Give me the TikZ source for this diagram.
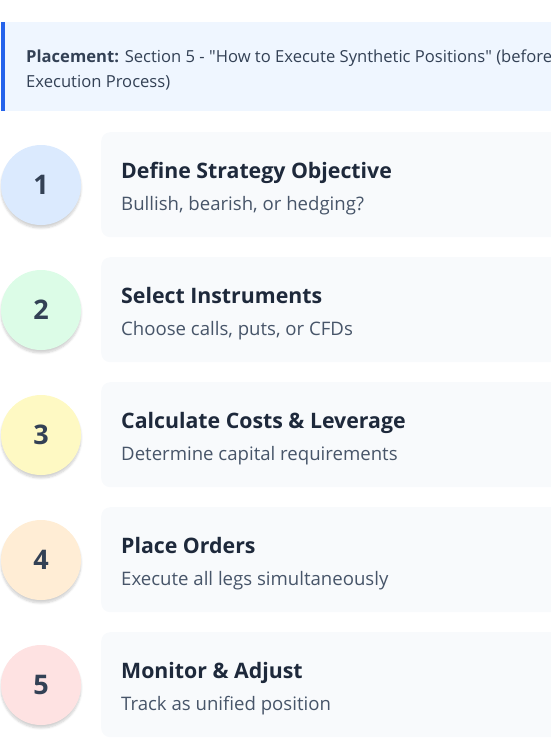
\documentclass[tikz,border=0pt]{standalone}
\usepackage{fontspec}
\setmainfont{Open Sans}
\usetikzlibrary{shadows.blur}

\definecolor{notebg}{HTML}{EFF6FF}
\definecolor{notebar}{HTML}{2563EB}
\definecolor{cardbg}{HTML}{F8FAFC}
\definecolor{darktext}{HTML}{1E293B}
\definecolor{subtext}{HTML}{475569}
\definecolor{numtext}{HTML}{334155}
\definecolor{stepblue}{HTML}{DBEAFE}
\definecolor{stepgreen}{HTML}{DCFCE7}
\definecolor{stepyellow}{HTML}{FEF9C3}
\definecolor{steporange}{HTML}{FFEDD5}
\definecolor{stepred}{HTML}{FEE2E2}

\tikzset{
  notebox/.style={anchor=north west, fill=notebg, minimum width=560pt, minimum height=89pt, inner sep=0pt},
  notetext/.style={anchor=west, inner sep=0pt, align=left, text=numtext,
    font=\fontsize{16.6}{25}\selectfont},
  stepdot/.style={circle, minimum size=80pt, inner sep=0pt, text=numtext,
    font=\fontsize{27}{30}\selectfont\bfseries,
    blur shadow={shadow xshift=0pt, shadow yshift=-3pt, shadow blur steps=6, shadow opacity=18}},
  card/.style={anchor=north west, fill=cardbg, rounded corners=9pt,
    minimum width=480pt, minimum height=105pt, inner sep=0pt},
  cardtitle/.style={anchor=base west, inner sep=0pt, text=darktext,
    font=\fontsize{21.3}{25}\selectfont\bfseries},
  cardsub/.style={anchor=base west, inner sep=0pt, text=subtext,
    font=\fontsize{18.6}{22}\selectfont}
}

\begin{document}
\begin{tikzpicture}[x=1pt,y=-1pt]
  \useasboundingbox (0,0) rectangle (551,748);
  \clip (0,0) rectangle (551,748);

  % placement note
  \node[notebox] (note) at (1,22) {};
  \fill[notebar] (note.north west) rectangle ([xshift=4pt]note.south west);
  \node[notetext] (notetxt) at (26,70) {\textbf{Placement:} Section 5 - \textquotedbl How to Execute Synthetic Positions\textquotedbl\ (before\\Execution Process)};

  % step 1
  \node[card] (card1) at (101,132) {};
  \node[stepdot, fill=stepblue] (dot1) at (41,185) {1};
  \node[cardtitle] (title1) at (121,178) {Define Strategy Objective};
  \node[cardsub] (sub1) at (121,210) {Bullish, bearish, or hedging?};

  % step 2
  \node[card] (card2) at (101,257) {};
  \node[stepdot, fill=stepgreen] (dot2) at (41,310) {2};
  \node[cardtitle] (title2) at (121,303) {Select Instruments};
  \node[cardsub] (sub2) at (121,335) {Choose calls, puts, or CFDs};

  % step 3
  \node[card] (card3) at (101,382) {};
  \node[stepdot, fill=stepyellow] (dot3) at (41,435) {3};
  \node[cardtitle] (title3) at (121,428) {Calculate Costs \& Leverage};
  \node[cardsub] (sub3) at (121,460) {Determine capital requirements};

  % step 4
  \node[card] (card4) at (101,507) {};
  \node[stepdot, fill=steporange] (dot4) at (41,560) {4};
  \node[cardtitle] (title4) at (121,553) {Place Orders};
  \node[cardsub] (sub4) at (121,585) {Execute all legs simultaneously};

  % step 5
  \node[card] (card5) at (101,632) {};
  \node[stepdot, fill=stepred] (dot5) at (41,685) {5};
  \node[cardtitle] (title5) at (121,678) {Monitor \& Adjust};
  \node[cardsub] (sub5) at (121,710) {Track as unified position};
\end{tikzpicture}
\end{document}
